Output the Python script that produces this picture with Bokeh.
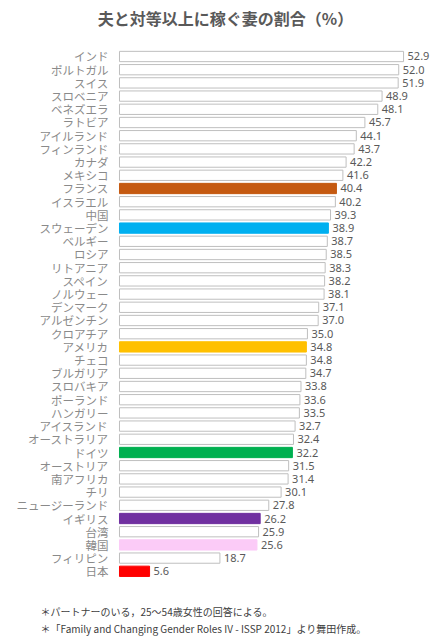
from bokeh.plotting import figure
from bokeh.models import ColumnDataSource, Range1d
from bokeh.embed import file_html
from bokeh.resources import INLINE
from bokeh.core.properties import value

countries = ["インド", "ポルトガル", "スイス", "スロベニア", "ベネズエラ", "ラトビア",
             "アイルランド", "フィンランド", "カナダ", "メキシコ", "フランス", "イスラエル",
             "中国", "スウェーデン", "ベルギー", "ロシア", "リトアニア", "スペイン",
             "ノルウェー", "デンマーク", "アルゼンチン", "クロアチア", "アメリカ", "チェコ",
             "ブルガリア", "スロバキア", "ポーランド", "ハンガリー", "アイスランド",
             "オーストラリア", "ドイツ", "オーストリア", "南アフリカ", "チリ",
             "ニュージーランド", "イギリス", "台湾", "韓国", "フィリピン", "日本"]
values = [52.9, 52.0, 51.9, 48.9, 48.1, 45.7, 44.1, 43.7, 42.2, 41.6, 40.4, 40.2,
          39.3, 38.9, 38.7, 38.5, 38.3, 38.2, 38.1, 37.1, 37.0, 35.0, 34.8, 34.8,
          34.7, 33.8, 33.6, 33.5, 32.7, 32.4, 32.2, 31.5, 31.4, 30.1, 27.8, 26.2,
          25.9, 25.6, 18.7, 5.6]
highlight = {"フランス": "#C55A11", "スウェーデン": "#00B0F0", "アメリカ": "#FFC000",
             "ドイツ": "#00B050", "イギリス": "#7030A0", "韓国": "#FBCBF7", "日本": "#FF0000"}
title_text = "夫と対等以上に稼ぐ妻の割合（%）"
notes = ["＊パートナーのいる，25～54歳女性の回答による。",
         "＊「Family and Changing Gender Roles IV - ISSP 2012」より舞田作成。"]

rows = list(range(len(countries)))
fills = [highlight.get(c, "#FFFFFF") for c in countries]
lines = [highlight.get(c, "#BFBFBF") for c in countries]
labels = [f"{v:.1f}" for v in values]
src = ColumnDataSource(dict(country=countries, val=values, row=rows,
                            fill=fills, line=lines, lbl=labels))

p = figure(width=440, height=641, output_backend="svg", toolbar_location=None,
           x_range=Range1d(-22.16, 59.78), y_range=Range1d(44.318, -4.242),
           x_axis_location=None, y_axis_location=None, min_border=0)
p.outline_line_color = None
p.xgrid.visible = False
p.ygrid.visible = False
p.background_fill_color = "white"

p.hbar(y="row", left=0, right="val", height=0.78, fill_color="fill",
       line_color="line", line_width=1, source=src)
p.text(x=0, y="row", text="country", x_offset=-11, text_align="right",
       text_baseline="middle", text_font=value("Noto Sans CJK JP"),
       text_font_size="11.5px", text_color="#8A8A8A", source=src)
p.text(x="val", y="row", text="lbl", x_offset=4, text_align="left",
       text_baseline="middle", text_font=value("Noto Sans"),
       text_font_size="11px", text_color="#595959", source=src)

p.text(x=[19.74], y=[-2.95], text=[title_text], text_align="center",
       text_baseline="middle", text_font=value("Noto Sans CJK JP"),
       text_font_size="16px", text_font_style="bold", text_color="#595959")
p.text(x=[-14.71, -14.71], y=[42.05, 43.35], text=notes, text_align="left",
       text_baseline="middle", text_font=value("Noto Sans CJK JP"),
       text_font_size="10px", text_color="#404040")

open("out.html", "w").write(file_html(p, INLINE))
